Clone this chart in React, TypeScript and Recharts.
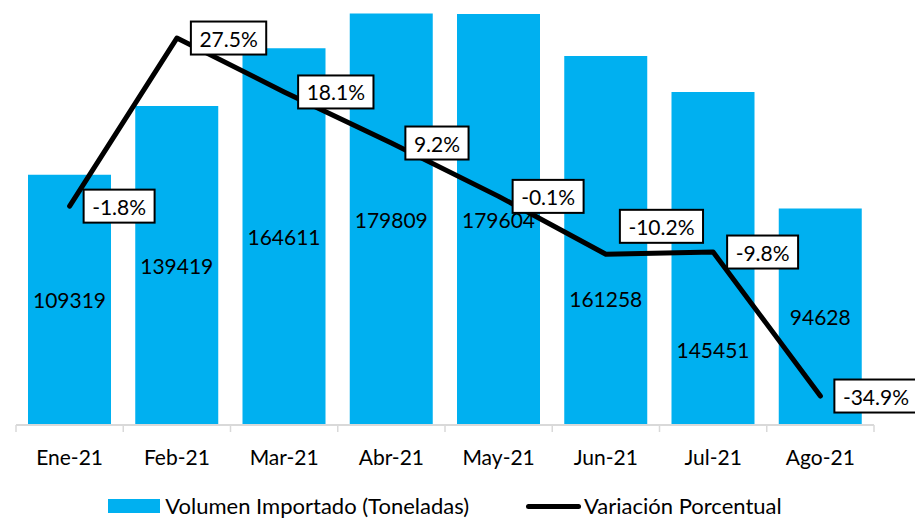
import { useLayoutEffect, useRef, useState } from 'react';
import { ComposedChart, Bar, Line, XAxis, YAxis, LabelList } from 'recharts';

const meses = ['Ene-21', 'Feb-21', 'Mar-21', 'Abr-21', 'May-21', 'Jun-21', 'Jul-21', 'Ago-21'];
const volumen = [109319, 139419, 164611, 179809, 179604, 161258, 145451, 94628];
const variacion = [-1.8, 27.5, 18.1, 9.2, -0.1, -10.2, -9.8, -34.9];

const data = meses.map((mes, i) => ({ mes, volumen: volumen[i], variacion: variacion[i] }));

const FONT = "Lato, 'Open Sans', sans-serif";
const BLUE = '#00B0F0';
const W = 915;
const H = 491;
const ML = 16;
const MR = 41;
const BAND = (W - ML - MR) / meses.length;

// labels that were dragged away from their default spot in the original
const barLabelShift: Record<string, number> = { 'Jun-21': 58, 'Jul-21': 91 };
const lineLabelShift: Record<string, number> = { 'Jun-21': -28 };

function BarValue(props: any) {
  const { x, y, width, height, value, index } = props;
  const dy = barLabelShift[meses[index]] || 0;
  return (
    <text x={x + width / 2} y={y + height / 2 + dy} textAnchor="middle" dominantBaseline="central" fontSize={21} fontFamily={FONT} fill="#000">
      {value}
    </text>
  );
}

function BoxLabel(props: any) {
  const { x, y, value, index } = props;
  const ref = useRef<SVGTextElement>(null);
  const [w, setW] = useState(56);
  useLayoutEffect(() => {
    if (ref.current) setW(ref.current.getComputedTextLength());
  }, [value]);
  const cy = y + (lineLabelShift[meses[index]] || 0);
  const left = x + 14;
  return (
    <g>
      <rect x={left} y={cy - 16.5} width={w + 17} height={33} fill="#fff" stroke="#000" strokeWidth={2} />
      <text ref={ref} x={left + 8.5} y={cy} dominantBaseline="central" fontSize={21} fontFamily={FONT} fill="#000">
        {Number(value).toFixed(1)}%
      </text>
    </g>
  );
}

function MonthTick(props: any) {
  const { x, y, payload, index } = props;
  const last = index === meses.length - 1;
  return (
    <g>
      <line x1={x - BAND / 2} x2={x - BAND / 2} y1={y - 8} y2={y - 1} stroke="#D9D9D9" strokeWidth={1.5} />
      {last && <line x1={x + BAND / 2} x2={x + BAND / 2} y1={y - 8} y2={y - 1} stroke="#D9D9D9" strokeWidth={1.5} />}
      <text x={x} y={y + 23} textAnchor="middle" dominantBaseline="central" fontSize={21} fontFamily={FONT} fill="#000">
        {payload.value}
      </text>
    </g>
  );
}

function LegendBox() {
  return (
    <div style={{ display: 'flex', justifyContent: 'center', alignItems: 'center', fontFamily: FONT, fontSize: 22, color: '#000', height: 26, paddingTop: 2, width: W - ML - MR, marginLeft: ML, lineHeight: '24px' }}>
      <span style={{ display: 'inline-block', width: 52, height: 14, background: BLUE, marginRight: 5 }} />
      <span>Volumen Importado (Toneladas)</span>
      <span style={{ display: 'inline-block', width: 55, height: 5, background: '#000', borderRadius: 3, marginLeft: 57, marginRight: 3 }} />
      <span>Variación Porcentual</span>
    </div>
  );
}

export default function App() {
  return (
    <div style={{ position: 'absolute', left: 0, top: 0, width: W, height: 519, background: '#fff', overflow: 'hidden' }}>
      <ComposedChart width={W} height={H} data={data} margin={{ top: 0, right: MR, left: ML, bottom: 0 }}>
        <XAxis
          dataKey="mes"
          height={66}
          axisLine={{ stroke: '#D9D9D9', strokeWidth: 2 }}
          tickLine={false}
          interval={0}
          tick={<MonthTick />}
        />
        <YAxis yAxisId="vol" hide domain={[0, 185700]} />
        <YAxis yAxisId="var" hide orientation="right" domain={[-39.95, 34.13]} />
        <Bar yAxisId="vol" dataKey="volumen" fill={BLUE} barSize={83} isAnimationActive={false}>
          <LabelList dataKey="volumen" content={(p: any) => <BarValue {...p} />} />
        </Bar>
        <Line
          yAxisId="var"
          type="linear"
          dataKey="variacion"
          stroke="#000"
          strokeWidth={5}
          strokeLinecap="round"
          strokeLinejoin="round"
          dot={false}
          isAnimationActive={false}
        >
          <LabelList dataKey="variacion" content={(p: any) => <BoxLabel {...p} />} />
        </Line>
      </ComposedChart>
      <LegendBox />
    </div>
  );
}
